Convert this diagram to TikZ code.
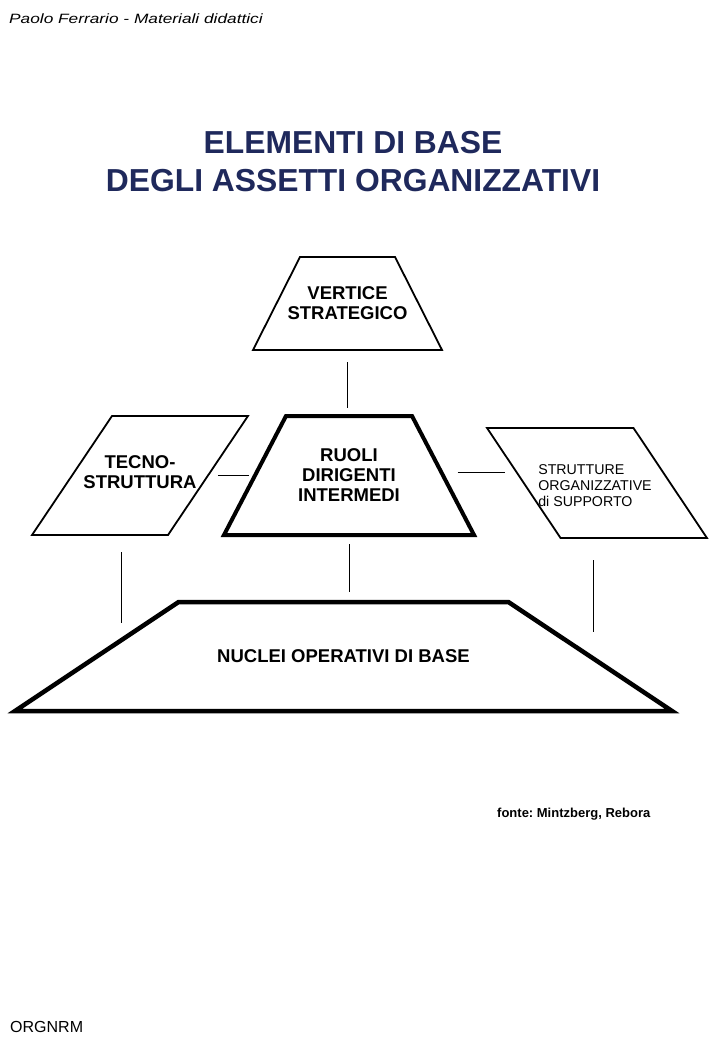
\documentclass[tikz,border=0pt]{standalone}
\usepackage{fontspec}
\setmainfont{Liberation Sans}
\usepackage{graphicx}
\usetikzlibrary{shapes.geometric}
\frenchspacing

\definecolor{titelblau}{RGB}{31,41,92}

\tikzset{
	form/.style={trapezium, draw, inner sep=1pt, outer sep=0pt, trapezium stretches=true},
	duenn/.style={line width=1.8pt},
	dick/.style={line width=4pt},
	linie/.style={line width=1pt},
	schrift/.style={font=\bfseries\fontsize{18.5}{20}\selectfont, align=center},
	klein/.style={font=\fontsize{14.2}{16.2}\selectfont, align=left},
}

\begin{document}
\begin{tikzpicture}[x=1pt, y=-1pt]
		% Seite
		\useasboundingbox[fill=white] (0,0) rectangle (720,1040);
		
		% zeichne Texte oben und unten
		\node[anchor=base west, inner sep=0pt, font=\itshape\fontsize{13.5}{15}\selectfont] (kopf) at (9,24) {\scalebox{1.28}[1]{Paolo Ferrario - Materiali didattici}};
		\node[align=center, text=titelblau, font=\bfseries\fontsize{31.8}{38}\selectfont, inner sep=0pt] (titel) at (353,162) {ELEMENTI DI BASE\\DEGLI ASSETTI ORGANIZZATIVI};
		\node[anchor=base west, inner sep=0pt, font=\bfseries\fontsize{13}{15}\selectfont] (fonte) at (497,817) {fonte: Mintzberg, Rebora};
		\node[anchor=base west, inner sep=0pt, font=\fontsize{16}{18}\selectfont] (kuerzel) at (10,1032) {ORGNRM};
		
		% zeichne Formen
		\node[form, duenn, trapezium angle=63.7, minimum width=189pt, minimum height=93pt,
			label={[schrift]center:VERTICE\\STRATEGICO}] (vertice) at (347.5,303.5) {};
		\node[form, dick, trapezium angle=63.8, minimum width=250pt, minimum height=119pt,
			label={[schrift]center:RUOLI\\DIRIGENTI\\INTERMEDI}] (ruoli) at (349,475.5) {};
		\node[form, duenn, trapezium left angle=35, trapezium right angle=145, minimum width=216pt, minimum height=119pt,
			label={[schrift, yshift=3pt]center:TECNO-\\STRUTTURA}] (tecno) at (140,475.5) {};
		\node[form, duenn, trapezium left angle=135.2, trapezium right angle=44.8, minimum width=220pt, minimum height=110pt,
			label={[klein, xshift=-2pt, yshift=-2.5pt]center:STRUTTURE\\ORGANIZZATIVE\\di SUPPORTO}] (strutture) at (597,483) {};
		\node[form, dick, line width=4.5pt, trapezium angle=63.6, minimum width=657pt, minimum height=109pt,
			label={[schrift]center:NUCLEI OPERATIVI DI BASE}] (nuclei) at (343.5,656.5) {};
		
		% zeichne Verbindungen
		\draw[linie, shorten <=12pt, shorten >=8pt] (vertice.bottom side) -- (vertice.bottom side |- ruoli.top side);
		\draw[linie, shorten <=10pt, shorten >=6pt] (tecno.right side) -- (ruoli.left side);
		\draw[linie, shorten <=14.5pt, shorten >=18.5pt] ([yshift=3.5pt]ruoli.right side) -- ([yshift=3.5pt]ruoli.right side -| strutture.left side);
		\draw[linie, shorten <=17pt, shorten >=-21pt] ([xshift=21.5pt]tecno.bottom side) -- ([xshift=21.5pt]tecno.bottom side |- nuclei.top side);
		\draw[linie, shorten <=9pt, shorten >=10pt] (ruoli.bottom side) -- (ruoli.bottom side |- nuclei.top side);
		\draw[linie, shorten <=22pt, shorten >=-30pt] ([xshift=-40.5pt]strutture.bottom side) -- ([xshift=-40.5pt]strutture.bottom side |- nuclei.top side);
	\end{tikzpicture}
\end{document}
